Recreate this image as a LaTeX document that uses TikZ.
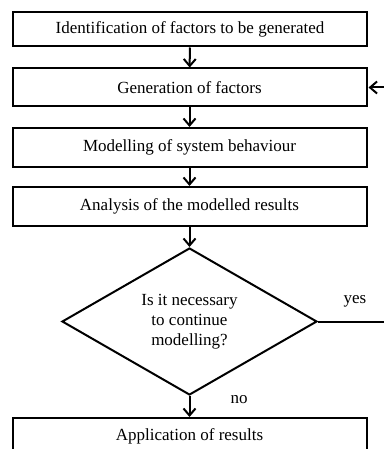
\documentclass[tikz,border=0pt]{standalone}
\usepackage{fontspec}
\setmainfont{Liberation Serif}
\usetikzlibrary{arrows.meta, shapes.geometric}
\tikzset{
  stepbox/.style={draw, line width=2pt, minimum width=354pt, inner sep=0pt},
  flow/.style={line width=2pt, -{Straight Barb[length=7pt, width=12pt, line width=2pt]}},
}
\begin{document}
\begin{tikzpicture}[x=1pt, y=-1pt, font=\fontsize{17}{20}\selectfont]
\useasboundingbox (0,0) rectangle (383,449);
% process boxes
\node[stepbox, minimum height=34pt] (ident) at (190,29.5) {Identification of factors to be generated};
\node[stepbox, minimum height=38pt] (gener) at (189.5,87.5) {Generation of factors};
\node[stepbox, minimum height=39pt] (model) at (189.5,147.5) {Modelling of system behaviour};
\node[stepbox, minimum height=39pt] (analy) at (189.5,206.5) {Analysis of the modelled results};
% decision
\node[draw, diamond, line width=2pt, aspect=1.7, minimum width=255pt, minimum height=147pt,
  inner sep=0pt, align=center] (decis) at (189.5,321.5) {Is it necessary\\ to continue\\ modelling?};
\node[stepbox, minimum height=36pt] (appl) at (189.5,436) {Application of results};
% connectors
\draw[flow] (ident) -- (gener);
\draw[flow] (gener) -- (model);
\draw[flow] (model) -- (analy);
\draw[flow] (analy) -- (decis);
\draw[flow] (decis) -- (appl);
% loop back (right part runs off the page)
\coordinate (loopb) at (400,321.5);
\coordinate (loopt) at (400,87.5);
\draw[flow] (decis.east) -- (loopb) -- (loopt) -- ([xshift=1pt]gener.east);
\node (yes) at (355,301) {yes};
\node (no) at (239,400) {no};
\end{tikzpicture}
\end{document}
